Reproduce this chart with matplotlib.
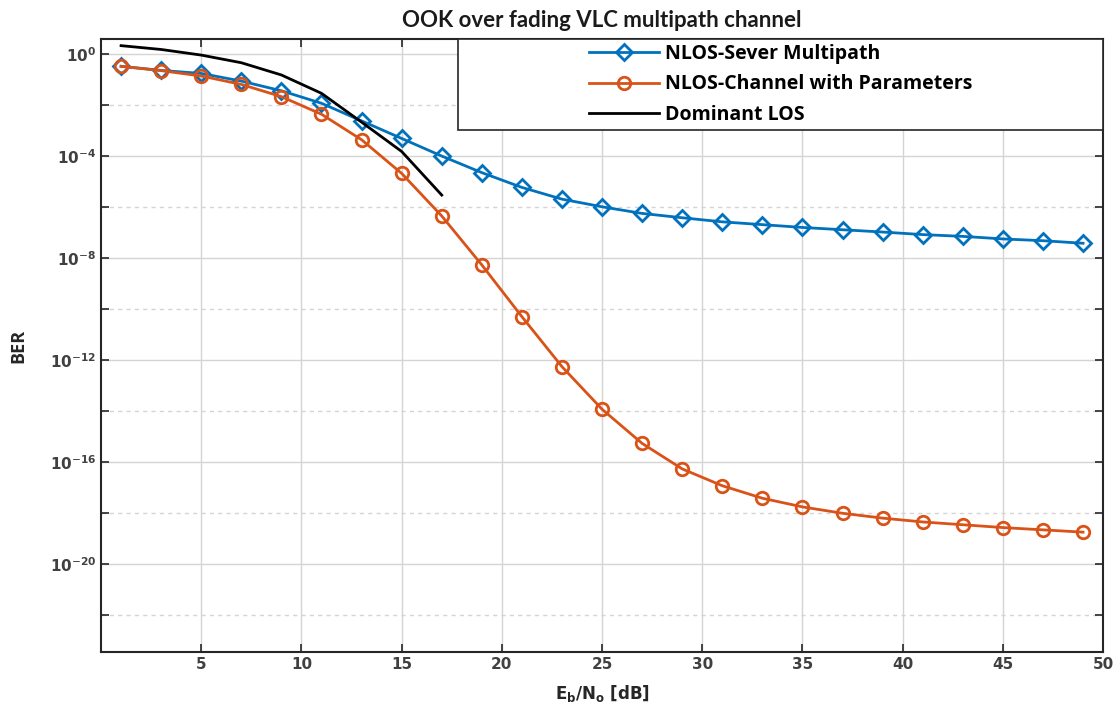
import matplotlib
matplotlib.use("Agg")
import matplotlib.pyplot as plt
from matplotlib.patches import Rectangle

# Eb/No [dB] and BER values (log10 BER)
ebno = [1, 3, 5, 7, 9, 11, 13, 15, 17, 19, 21, 23, 25,
        27, 29, 31, 33, 35, 37, 39, 41, 43, 45, 47, 49]
ber_sever_log = [-0.48, -0.64, -0.76, -1.06, -1.44, -1.93, -2.62, -3.31, -4.0,
                 -4.65, -5.23, -5.69, -5.99, -6.25, -6.42, -6.58, -6.69, -6.80,
                 -6.89, -6.98, -7.08, -7.15, -7.25, -7.32, -7.42]
ber_param_log = [-0.48, -0.65, -0.86, -1.19, -1.67, -2.36, -3.36, -4.68, -6.35,
                 -8.27, -10.3, -12.26, -13.93, -15.27, -16.27, -16.93, -17.42,
                 -17.76, -18.01, -18.20, -18.35, -18.46, -18.57, -18.66, -18.75]
ebno_los = [1, 3, 5, 7, 9, 11, 13, 15, 17]
ber_los_log = [0.33, 0.18, -0.04, -0.34, -0.82, -1.54, -2.67, -3.82, -5.53]

labels = ['NLOS-Sever Multipath', 'NLOS-Channel with Parameters', 'Dominant LOS']
xticks = [5, 10, 15, 20, 25, 30, 35, 40, 45, 50]
ber_sever = [10 ** v for v in ber_sever_log]
ber_param = [10 ** v for v in ber_param_log]
ber_los = [10 ** v for v in ber_los_log]

plt.rcParams['mathtext.default'] = 'bf'
fig = plt.figure(figsize=(11.14, 7.16), dpi=100)
ax = fig.add_axes([0.0907, 0.0894, 0.8995, 0.8561])

ax.semilogy(ebno, ber_sever, color='#0072BD', lw=2, marker='D', ms=8,
            mfc='none', mew=2, label=labels[0])
ax.semilogy(ebno, ber_param, color='#D95319', lw=2, marker='o', ms=9,
            mfc='none', mew=2, label=labels[1])
ax.semilogy(ebno_los, ber_los, color='black', lw=2, label=labels[2])

ax.set_xlim(0, 50)
ax.set_ylim(10 ** -23.45, 10 ** 0.59)
ax.set_xticks(xticks)
ax.set_yticks([10.0 ** -k for k in range(0, 21, 4)])
ax.set_yticks([10.0 ** -k for k in range(2, 23, 4)], minor=True)
ax.set_yticklabels(['$10^{\\mathrm{-}%d}$' % k if k else '$10^{0}$' for k in range(0, 21, 4)])
ax.set_xticklabels([str(v) for v in xticks])
ax.yaxis.set_minor_formatter(plt.NullFormatter())

ax.tick_params(which='both', direction='in', top=True, right=True,
               length=6, width=1.2, colors='#262626', labelcolor='#404040',
               labelsize=11)
for lab in ax.get_xticklabels():
    lab.set_fontweight('bold')
ax.grid(True, which='major', color='#d4d4d4', lw=1)
ax.grid(True, which='minor', axis='y', color='#d4d4d4', lw=1, ls=(0, (3, 3)))
for s in ax.spines.values():
    s.set_linewidth(1.5)
    s.set_color('#262626')

ax.set_title('OOK over fading VLC multipath channel', family='Lato',
             fontweight='bold', fontsize=16, pad=9, color='#1a1a1a')
ax.set_ylabel('BER', family='Open Sans', fontweight='bold', fontsize=13,
              color='#262626', labelpad=16)
ax.set_xlabel('E$_b$/N$_o$ [dB]', family='DejaVu Sans', fontweight='bold',
              fontsize=12, color='#262626', labelpad=8)

# legend box like MATLAB's, with entries centred inside
ax.add_patch(Rectangle((0.356, 0.8515), 0.644, 0.1485, transform=ax.transAxes,
                       facecolor='white', edgecolor='#262626', lw=1.2, zorder=5))
leg = ax.legend(loc='center', bbox_to_anchor=(0.678, 0.926), frameon=False,
                prop={'family': 'Open Sans', 'weight': 'bold', 'size': 14},
                handlelength=3.6, handletextpad=0.3, labelspacing=0.55)
leg.set_zorder(6)

fig.savefig('out.png', dpi=100)
